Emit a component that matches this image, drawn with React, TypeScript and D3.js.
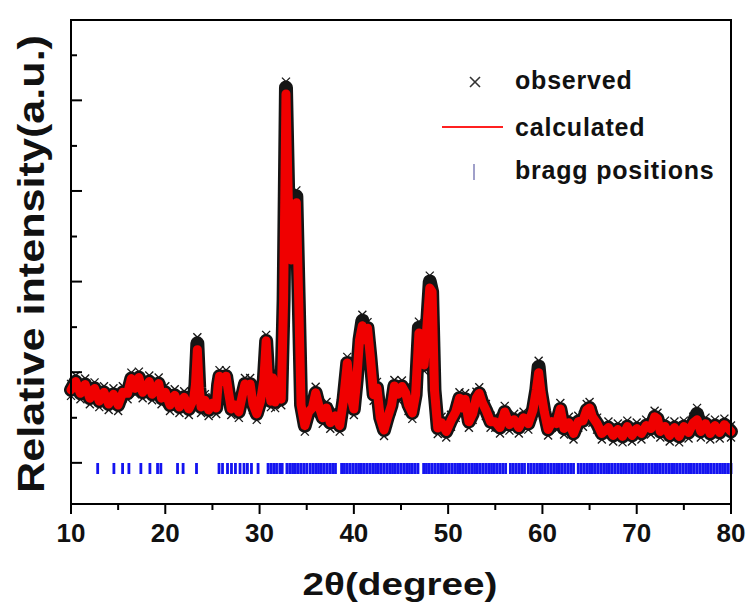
import React from "react";
import * as d3 from "d3";

const twoTheta = [
  10.0, 10.5, 11.0, 11.5, 12.0, 12.5, 13.0, 13.5, 14.0, 14.5,
  15.0, 15.5, 16.0, 16.4, 16.8, 17.2, 17.6, 18.0, 18.3, 18.6,
  19.0, 19.3, 19.6, 20.0, 20.5, 21.0, 21.5, 22.0, 22.5, 23.0,
  23.2, 23.4, 23.6, 23.8, 24.2, 24.6, 25.0, 25.4, 25.6, 25.75,
  26.1, 26.45, 26.7, 27.0, 27.4, 27.8, 28.2, 28.45, 28.75, 29.0,
  29.3, 29.7, 30.1, 30.45, 30.7, 30.95, 31.2, 31.4, 31.65, 32.0,
  32.3, 32.55, 32.8, 33.05, 33.35, 33.65, 33.9, 34.15, 34.4, 34.8,
  35.2, 35.6, 35.95, 36.3, 36.7, 37.1, 37.5, 38.0, 38.5, 38.9,
  39.3, 39.65, 40.0, 40.3, 40.6, 40.9, 41.2, 41.45, 41.75, 42.1,
  42.45, 42.8, 43.2, 43.6, 44.0, 44.3, 44.7, 45.1, 45.5, 45.8,
  46.2, 46.55, 46.9, 47.15, 47.45, 47.8, 48.05, 48.3, 48.55, 48.9,
  49.3, 49.8, 50.3, 50.8, 51.2, 51.5, 51.8, 52.2, 52.6, 53.0,
  53.3, 53.6, 54.0, 54.5, 55.0, 55.5, 56.0, 56.5, 57.0, 57.5,
  58.0, 58.5, 59.0, 59.35, 59.6, 59.85, 60.2, 60.6, 61.0, 61.5,
  61.9, 62.3, 62.8, 63.3, 63.8, 64.3, 64.7, 65.0, 65.3, 65.8,
  66.3, 67.0, 67.5, 68.0, 68.5, 69.0, 69.5, 70.0, 70.5, 71.0,
  71.5, 71.9, 72.2, 72.5, 73.0, 73.5, 74.0, 74.5, 75.0, 75.5,
  76.0, 76.4, 76.8, 77.3, 77.8, 78.3, 78.8, 79.3, 80.0,
];

const calculated = [
  245, 262, 238, 256, 228, 248, 222, 240, 216, 236,
  214, 240, 238, 268, 248, 270, 240, 250, 262, 236,
  246, 258, 228, 240, 214, 234, 210, 230, 206, 226,
  255, 327, 249, 210, 224, 204, 218, 208, 255, 273,
  262, 273, 241, 206, 214, 200, 236, 257, 244, 257,
  216, 196, 222, 265, 345, 261, 222, 269, 220, 240,
  226, 429, 849, 633, 510, 531, 627, 429, 214, 172,
  200, 208, 239, 212, 188, 208, 178, 192, 172, 224,
  300, 235, 206, 265, 347, 376, 347, 371, 312, 235,
  249, 188, 163, 190, 214, 253, 236, 252, 238, 214,
  198, 235, 361, 316, 296, 388, 453, 445, 245, 167,
  178, 160, 182, 200, 228, 208, 226, 180, 196, 229,
  238, 220, 204, 180, 180, 168, 200, 174, 184, 168,
  188, 176, 204, 245, 280, 241, 200, 164, 180, 176,
  206, 166, 178, 156, 180, 182, 204, 208, 190, 176,
  156, 168, 152, 164, 150, 170, 152, 166, 156, 172,
  166, 190, 186, 160, 170, 152, 168, 150, 170, 158,
  178, 184, 160, 176, 156, 172, 158, 174, 160,
];

const observed = [
  245, 262, 238, 256, 228, 248, 222, 240, 216, 236,
  214, 240, 238, 268, 248, 270, 240, 250, 262, 236,
  246, 258, 228, 240, 214, 234, 210, 230, 206, 226,
  255, 340, 249, 210, 224, 204, 218, 208, 255, 273,
  262, 273, 241, 206, 214, 200, 236, 257, 244, 257,
  216, 196, 222, 265, 345, 261, 222, 269, 220, 240,
  226, 429, 862, 633, 510, 531, 640, 429, 214, 172,
  200, 208, 239, 212, 188, 208, 178, 192, 172, 224,
  300, 235, 206, 265, 347, 386, 347, 371, 312, 235,
  249, 188, 163, 190, 214, 253, 236, 252, 238, 214,
  198, 235, 372, 316, 296, 388, 466, 445, 245, 167,
  178, 160, 182, 200, 228, 208, 226, 180, 196, 229,
  238, 220, 204, 180, 180, 168, 200, 174, 184, 168,
  188, 176, 204, 245, 292, 241, 200, 164, 180, 176,
  206, 166, 178, 156, 180, 182, 204, 208, 190, 176,
  156, 168, 152, 164, 150, 170, 152, 166, 156, 172,
  166, 190, 186, 160, 170, 152, 168, 150, 170, 158,
  178, 196, 160, 176, 156, 172, 158, 174, 160,
];

const braggPositions = [
  12.83, 14.55, 15.47, 16.14, 17.41, 18.37, 19.18, 19.53, 21.3, 21.89,
  23.31, 25.7, 26.07, 26.6, 27.02, 27.44, 27.93, 28.35, 28.71, 29.14, 29.84,
  30.9, 31.2, 31.5, 31.8, 32.15, 32.4, 32.9, 33.2, 33.5, 33.8, 34.1, 34.4, 34.7,
  35.0, 35.35, 35.65, 35.95, 36.25, 36.55, 36.85, 37.15, 37.45, 37.75, 38.05,
  38.7, 39.0, 39.3, 39.6, 39.9, 40.2, 40.5, 40.8, 41.1, 41.4, 41.7, 42.0, 42.3,
  42.6, 42.9, 43.2, 43.5, 43.8, 44.1, 44.4, 44.7, 45.0, 45.3, 45.6, 45.9, 46.2,
  46.5, 46.8, 47.4, 47.7, 48.0, 48.3, 48.6, 48.9, 49.2, 49.5, 49.8, 50.1, 50.4,
  50.7, 51.0, 51.3, 51.6, 51.9, 52.2, 52.5, 52.8, 53.1, 53.4, 53.7, 54.0, 54.3,
  54.6, 54.9, 55.2, 55.5, 55.8, 56.1, 56.6, 56.9, 57.2, 57.5, 57.8, 58.1, 58.5,
  58.8, 59.1, 59.4, 59.7, 60.0, 60.3, 60.6, 60.9, 61.2, 61.5, 61.8, 62.1, 62.4,
  62.7, 63.0, 63.3, 63.8, 64.1, 64.4, 64.7, 65.0, 65.3, 65.6, 65.9, 66.2, 66.5,
  66.8, 67.1, 67.4, 67.7, 68.0, 68.3, 68.6, 68.9, 69.2, 69.5, 69.8, 70.1, 70.4,
  70.7, 71.0, 71.3, 71.6, 71.9, 72.2, 72.5, 72.8, 73.1, 73.4, 73.7, 74.0, 74.3,
  74.6, 74.9, 75.2, 75.5, 75.8, 76.1, 76.4, 76.7, 77.0, 77.3, 77.6, 77.9, 78.2,
  78.5, 78.8, 79.1, 79.4, 79.7, 80.0,
];

const xMajorTicks = [10, 20, 30, 40, 50, 60, 70, 80];
const xMinorTicks = [15, 25, 35, 45, 55, 65, 75];
const yMajorTicks = [96, 281, 466, 651, 836];
const yMinorTicks = [188, 373, 558, 743, 928];

const legendLabels = ["observed", "calculated", "bragg positions"];

const FONT = "'Liberation Sans', Arial, Helvetica, sans-serif";

export default function App() {
  const W = 749;
  const H = 610;
  const left = 71;
  const right = 731;
  const top = 20;
  const bottom = 504;

  const x = d3.scaleLinear().domain([10, 80]).range([left, right]);
  const y = d3.scaleLinear().domain([12, 1000]).range([bottom, top]);

  const obsPts: [number, number][] = twoTheta.map((t, i) => [t, observed[i]]);
  const calcPts: [number, number][] = twoTheta.map((t, i) => [t, calculated[i]]);

  const line = d3
    .line<[number, number]>()
    .x((d) => x(d[0]))
    .y((d) => y(d[1]));

  const obsPath = line(obsPts) || "";
  const calcPath = line(calcPts) || "";

  const m = 4;
  const braggTop = 463;
  const braggBottom = 474;

  return (
    <svg
      width={W}
      height={H}
      style={{ position: "absolute", left: 0, top: 0, background: "#fff" }}
      fontFamily={FONT}
    >
      <rect x={0} y={0} width={W} height={H} fill="#fff" />

      {/* Bragg positions */}
      <g stroke="#1414f0" strokeWidth={2.8}>
        {braggPositions.map((p, i) => (
          <line key={i} x1={x(p)} x2={x(p)} y1={braggTop} y2={braggBottom} />
        ))}
      </g>

      {/* observed: dense black envelope + x markers */}
      <path
        d={obsPath}
        fill="none"
        stroke="#151515"
        strokeWidth={14}
        strokeLinejoin="round"
        strokeLinecap="round"
      />
      <g stroke="#151515" strokeWidth={1.3}>
        {obsPts.map((d, i) => {
          const cx = x(d[0]);
          const cy = y(d[1]);
          return (
            <g key={i}>
              <line x1={cx - m} y1={cy - m - 6} x2={cx + m} y2={cy + m - 6} />
              <line x1={cx - m} y1={cy + m - 6} x2={cx + m} y2={cy - m - 6} />
              <line x1={cx - m} y1={cy - m + 6} x2={cx + m} y2={cy + m + 6} />
              <line x1={cx - m} y1={cy + m + 6} x2={cx + m} y2={cy - m + 6} />
            </g>
          );
        })}
      </g>

      {/* calculated */}
      <path
        d={calcPath}
        fill="none"
        stroke="#f00000"
        strokeWidth={9}
        strokeLinejoin="round"
        strokeLinecap="round"
      />

      {/* frame */}
      <rect
        x={left}
        y={top}
        width={right - left}
        height={bottom - top}
        fill="none"
        stroke="#000"
        strokeWidth={2}
      />

      {/* x ticks */}
      <g stroke="#000" strokeWidth={2}>
        {xMajorTicks.map((t) => (
          <line key={"M" + t} x1={x(t)} x2={x(t)} y1={bottom} y2={bottom + 10} />
        ))}
        {xMinorTicks.map((t) => (
          <line key={"m" + t} x1={x(t)} x2={x(t)} y1={bottom} y2={bottom + 6} />
        ))}
      </g>
      <g fontSize={26} fontWeight="bold" textAnchor="middle" fill="#111">
        {xMajorTicks.map((t) => (
          <text key={t} x={x(t)} y={542}>
            {t}
          </text>
        ))}
      </g>

      {/* y ticks (inward, no labels) */}
      <g stroke="#000" strokeWidth={2}>
        {yMajorTicks.map((t) => (
          <line key={"M" + t} x1={left} x2={left + 11} y1={y(t)} y2={y(t)} />
        ))}
        {yMinorTicks.map((t) => (
          <line key={"m" + t} x1={left} x2={left + 6} y1={y(t)} y2={y(t)} />
        ))}
      </g>

      {/* axis titles */}
      <text
        transform="translate(44,264) rotate(-90)"
        textAnchor="middle"
        fontSize={37}
        fontWeight="bold"
        fill="#111"
        textLength={458}
        lengthAdjust="spacingAndGlyphs"
      >
        Relative intensity(a.u.)
      </text>
      <text
        x={400}
        y={595}
        textAnchor="middle"
        fontSize={31}
        fontWeight="bold"
        fill="#111"
        textLength={195}
        lengthAdjust="spacingAndGlyphs"
      >
        2θ(degree)
      </text>

      {/* legend */}
      <g>
        <g stroke="#333" strokeWidth={1.6}>
          <line x1={470} y1={77} x2={480} y2={87} />
          <line x1={470} y1={87} x2={480} y2={77} />
        </g>
        <line x1={442} x2={503} y1={127} y2={127} stroke="#ff2020" strokeWidth={2} />
        <line x1={474} x2={474} y1={164} y2={180} stroke="#8080b8" strokeWidth={1.5} />
        <g fontSize={25} fontWeight="bold" fill="#111" letterSpacing={0.8}>
          <text x={515} y={89}>{legendLabels[0]}</text>
          <text x={515} y={136}>{legendLabels[1]}</text>
          <text x={515} y={179}>{legendLabels[2]}</text>
        </g>
      </g>
    </svg>
  );
}
